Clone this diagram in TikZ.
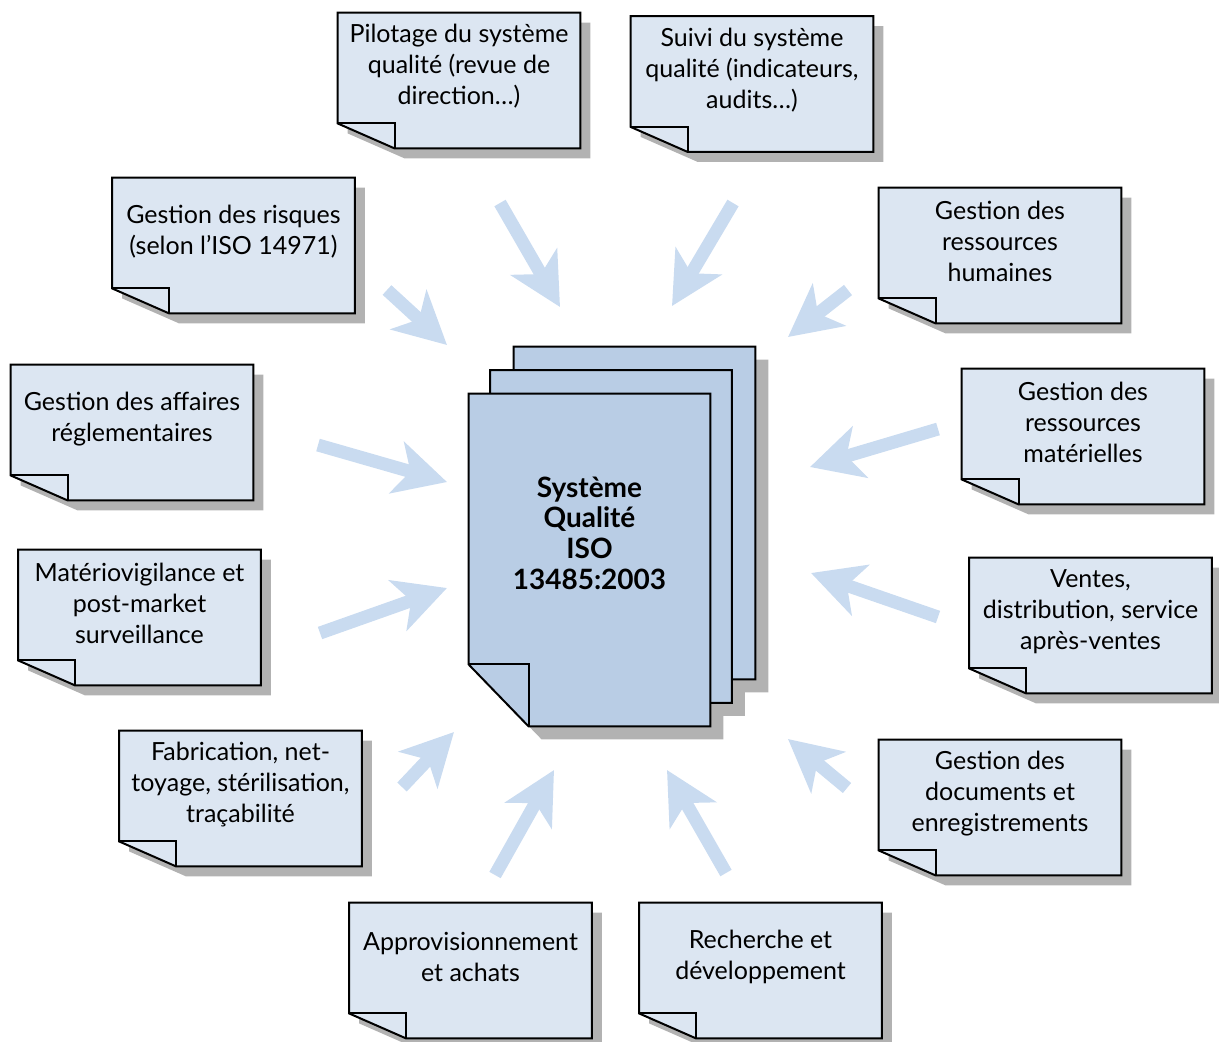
\documentclass[tikz,border=0pt]{standalone}
\usepackage{fontspec}
\setmainfont{Lato}
\usetikzlibrary{arrows.meta,calc}
\definecolor{boxfill}{HTML}{DCE6F2}
\definecolor{docfill}{HTML}{B9CDE5}
\definecolor{shadowc}{HTML}{B2B2B2}
\definecolor{arrowc}{HTML}{C9DBF0}
\tikzset{
  boxnode/.style={rectangle,draw=none,minimum width=121pt,minimum height=67.5pt,inner sep=0pt},
  pagenode/.style={rectangle,draw=none,minimum width=120.5pt,minimum height=166pt,inner sep=0pt},
  boxline/.style={draw=black,line width=1pt},
  boxtext/.style={align=center,inner sep=0pt,font=\fontsize{12.5}{15.5}\selectfont},
  doctext/.style={align=center,inner sep=0pt,font=\fontsize{14}{15.3}\selectfont\bfseries},
  blockarrow/.style={draw=arrowc,line width=6.5pt,-{Stealth[length=26pt,width=26.5pt,inset=7pt]}},
}
\newcommand\notebox[3]{%
  \node[boxnode] (#1) at (#2) {};
  \coordinate (#1-f1) at ([shift={(0,-25)}]#1.south west);
  \coordinate (#1-f2) at ([shift={(57,0)}]#1.south west);
  \coordinate (#1-f3) at ([shift={(57,-25)}]#1.south west);
  \fill[shadowc] ([shift={(10,10)}]#1.north west) -- ([shift={(10,10)}]#1.north east)
    -- ([shift={(10,10)}]#1.south east) -- ([shift={(10,10)}]#1-f2) -- ([shift={(10,10)}]#1-f1) -- cycle;
  \draw[boxline,fill=boxfill] (#1.north west) -- (#1.north east) -- (#1.south east)
    -- (#1-f2) -- (#1-f1) -- cycle;
  \draw[boxline] (#1-f1) -- (#1-f3) -- (#1-f2);
  \node[boxtext] (#1-t) at ([shift={(0,54)}]#1.north) {#3};
}
\newcommand\pagecoords[1]{%
  \coordinate (#1-f1) at ([shift={(0,-62)}]#1.south west);
  \coordinate (#1-f2) at ([shift={(60,0)}]#1.south west);
  \coordinate (#1-f3) at ([shift={(60,-62)}]#1.south west);
}
\newcommand\pageshadow[1]{%
  \fill[shadowc] ([shift={(13,13)}]#1.north west) -- ([shift={(13,13)}]#1.north east)
    -- ([shift={(13,13)}]#1.south east) -- ([shift={(13,13)}]#1-f2) -- ([shift={(13,13)}]#1-f1) -- cycle;
}
\newcommand\pageshape[1]{%
  \draw[boxline,fill=docfill] (#1.north west) -- (#1.north east) -- (#1.south east)
    -- (#1-f2) -- (#1-f1) -- cycle;
  \draw[boxline] (#1-f1) -- (#1-f3) -- (#1-f2);
}
\begin{document}
\begin{tikzpicture}[x=0.5pt,y=-0.5pt]
\useasboundingbox (0,0) rectangle (1219,1041);

% outer boxes
\notebox{pil}{459,80.5}{Pilotage du système\\qualité (revue de\\direction…)}
\notebox{sui}{752,84}{Suivi du système\\qualité (indicateurs,\\audits…)}
\notebox{ris}{233.5,245.5}{Gestion des risques\\(selon l’ISO 14971)}
\notebox{grh}{1000,255.5}{Gestion des\\ressources\\humaines}
\notebox{aff}{132,432.5}{Gestion des affaires\\réglementaires}
\notebox{mat}{1083,436.5}{Gestion des\\ressources\\matérielles}
\notebox{vig}{139.5,617.5}{Matériovigilance et\\post-market\\surveillance}
\notebox{ven}{1090.5,625.5}{Ventes,\\distribution, service\\après-ventes}
\notebox{fab}{240.5,798.5}{Fabrication, net-\\toyage, stérilisation,\\traçabilité}
\notebox{doc}{1000,807.5}{Gestion des\\documents et\\enregistrements}
\notebox{app}{470.5,970.5}{Approvisionnement\\et achats}
\notebox{rec}{760.5,970.5}{Recherche et\\développement}

% central document stack
\node[pagenode] (back) at (634.5,513) {};
\node[pagenode] (mid) at (611,536.5) {};
\node[pagenode] (front) at (589.5,560) {};
\pagecoords{back}\pagecoords{mid}\pagecoords{front}
\pageshadow{back}\pageshadow{mid}\pageshadow{front}
\pageshape{back}\pageshape{mid}\pageshape{front}
\node[doctext] (front-t) at (589.5,533) {Système\\Qualité\\ISO\\13485:2003};

% arrows
\coordinate (a1s) at (500,203);  \coordinate (a1e) at (560,307);
\coordinate (a2s) at (733,203);  \coordinate (a2e) at (672,306);
\coordinate (a3s) at (387,290);  \coordinate (a3e) at (447,345);
\coordinate (a4s) at (848,290);  \coordinate (a4e) at (788,337);
\coordinate (a5s) at (318,445);  \coordinate (a5e) at (447,482);
\coordinate (a6s) at (938,429);  \coordinate (a6e) at (810,467);
\coordinate (a7s) at (320,633);  \coordinate (a7e) at (447,588);
\coordinate (a8s) at (938,617);  \coordinate (a8e) at (811,573);
\coordinate (a9s) at (402,787);  \coordinate (a9e) at (454,732);
\coordinate (a10s) at (847,788); \coordinate (a10e) at (788,739);
\coordinate (a11s) at (495,875); \coordinate (a11e) at (554,770);
\coordinate (a12s) at (726,873); \coordinate (a12e) at (667,770);
\foreach \i in {1,...,12}{
  \draw[blockarrow] (a\i s) -- (a\i e);
}
\end{tikzpicture}
\end{document}
